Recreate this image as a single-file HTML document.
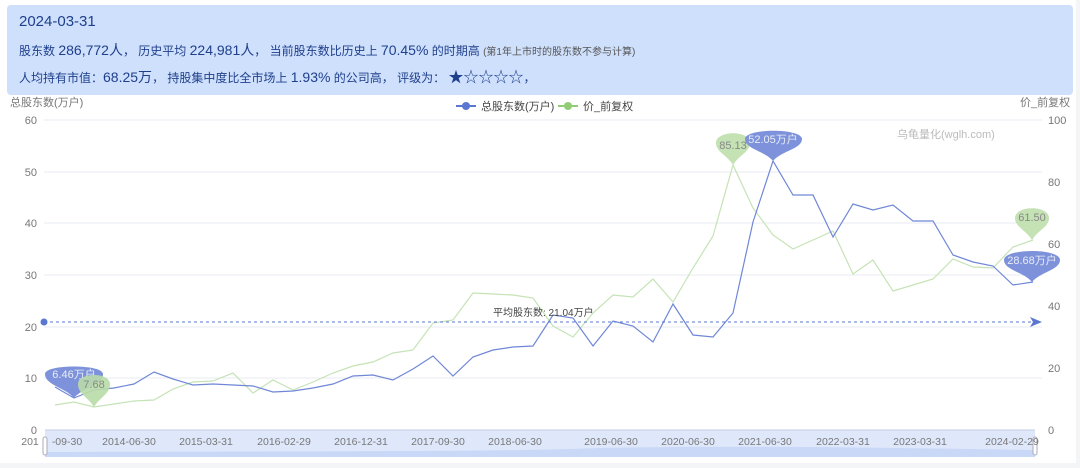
<!DOCTYPE html>
<html><head><meta charset="utf-8"><style>
body{margin:0;width:1080px;height:468px;background:#f4f5f7;font-family:"Liberation Sans","Noto Sans CJK SC",sans-serif;overflow:hidden;position:relative}
.card{position:absolute;left:0;top:0;width:1076px;height:463px;background:#fff}
.hdr{position:absolute;left:7px;top:5px;width:1066px;height:90px;background:#cfe0fc;border-radius:4px;color:#1e3f8c}
.hdr div{position:absolute;left:12px;white-space:nowrap}
</style></head><body>
<div class="card"></div>
<div class="hdr">
<div style="top:8px;font-size:15px">2024-03-31</div>
<div style="top:35px;font-size:12px">股东数 <span style="font-size:14px">286,772人</span>， 历史平均 <span style="font-size:14px">224,981人</span>， 当前股东数比历史上 <span style="font-size:14px">70.45%</span> 的时期高 <span style="font-size:10px;color:#555">(第1年上市时的股东数不参与计算)</span></div>
<div style="top:61px;font-size:12px">人均持有市值：<span style="font-size:14px">68.25万</span>， 持股集中度比全市场上 <span style="font-size:14px">1.93%</span> 的公司高， 评级为： <span style="font-size:15px">★☆☆☆☆</span>，</div>
</div>
<svg width="1080" height="468" style="position:absolute;left:0;top:0" font-family="Liberation Sans, Noto Sans CJK SC, sans-serif">
<g stroke="#e8ebf3" stroke-width="1">
<line x1="44" y1="120" x2="1042" y2="120"/><line x1="44" y1="172" x2="1042" y2="172"/><line x1="44" y1="223" x2="1042" y2="223"/><line x1="44" y1="275" x2="1042" y2="275"/><line x1="44" y1="327" x2="1042" y2="327"/><line x1="44" y1="378" x2="1042" y2="378"/>
</g>
<g font-size="11" fill="#777" text-anchor="end">
<text x="37" y="124">60</text><text x="37" y="176">50</text><text x="37" y="227">40</text><text x="37" y="279">30</text><text x="37" y="331">20</text><text x="37" y="382">10</text><text x="37" y="434">0</text>
</g>
<g font-size="11" fill="#777">
<text x="1048" y="124">100</text><text x="1048" y="186">80</text><text x="1048" y="248">60</text><text x="1048" y="310">40</text><text x="1048" y="372">20</text><text x="1048" y="434">0</text>
<text x="10" y="106">总股东数(万户)</text><text x="1020" y="106">价_前复权</text>
<text x="897" y="138" fill="#bbb">乌龟量化(wglh.com)</text>
</g>
<g font-size="11" fill="#444">
<line x1="456" y1="106" x2="476" y2="106" stroke="#5b77d1" stroke-width="2"/><circle cx="466" cy="106" r="4" fill="#5b77d1"/><text x="481" y="110">总股东数(万户)</text>
<line x1="558" y1="106" x2="578" y2="106" stroke="#91cc75" stroke-width="2"/><circle cx="568" cy="106" r="4" fill="#91cc75"/><text x="583" y="110">价_前复权</text>
</g>
<polyline fill="none" stroke="#c5e3b6" stroke-width="1.2" points="55,405 74,402 94,407 114,404 134,401 154,400 173,389 193,382 213,381 233,373 253,393 273,380 293,390 313,382 333,373 353,366 373,362 393,353 413,350 433,323 453,320 473,293 493,294 513,295 533,298 553,326 573,337 593,313 613,295 633,297 653,279 673,302 693,268 713,236 733,165 753,208 773,235 793,249 813,240 833,231 853,274 873,260 893,291 913,285 933,279 953,259 973,267 993,268 1013,247 1033,240"/>
<polyline fill="none" stroke="#6f87d6" stroke-width="1.2" points="55,387 74,398 94,390 114,388 134,384 154,372 173,379 193,385 213,384 233,385 253,386 273,392 293,391 313,388 333,384 353,376 373,375 393,380 413,369 433,356 453,376 473,357 493,350 513,347 533,346 553,315 573,318 593,346 613,321 633,326 653,342 673,304 693,335 713,337 733,313 753,222 773,161 793,195 813,195 833,237 853,204 873,210 893,205 913,221 933,221 953,255 973,262 993,266 1013,285 1033,282"/>
<line x1="44" y1="322" x2="1034" y2="322" stroke="#5b77d1" stroke-dasharray="3,3"/>
<circle cx="44" cy="322" r="3.5" fill="#5b77d1"/><path d="M1030,317 L1042,322 L1030,327 L1033,322Z" fill="#5b77d1"/>
<text x="493" y="316" font-size="10" fill="#444">平均股东数: 21.04万户</text>
<g font-size="11">
<path d="M74,398 C66,388 45,385 45,374 C45,364 103,364 103,374 C103,385 82,388 74,398Z" fill="#7d92da"/><text x="74" y="378" text-anchor="middle" fill="#e8ecf8">6.46万户</text>
<path d="M94,407 C88,397 78,394 78,384 C78,372 110,372 110,384 C110,394 100,397 94,407Z" fill="#b9dca8" opacity=".9"/><text x="94" y="388" text-anchor="middle" fill="#888">7.68</text>
<path d="M733,165 C727,155 716,152 716,143 C716,130 750,130 750,143 C750,152 739,155 733,165Z" fill="#c4e2b4"/><text x="733" y="149" text-anchor="middle" fill="#888">85.13</text>
<path d="M773,161 C765,151 745,149 745,139 C745,128 802,128 802,139 C802,149 781,151 773,161Z" fill="#7d92da"/><text x="773" y="143" text-anchor="middle" fill="#e8ecf8">52.05万户</text>
<path d="M1032,240 C1026,230 1015,227 1015,218 C1015,205 1049,205 1049,218 C1049,227 1038,230 1032,240Z" fill="#c4e2b4"/><text x="1032" y="221" text-anchor="middle" fill="#888">61.50</text>
<path d="M1032,282 C1024,272 1004,270 1004,260 C1004,248 1060,248 1060,260 C1060,270 1040,272 1032,282Z" fill="#7d92da"/><text x="1032" y="264" text-anchor="middle" fill="#e8ecf8">28.68万户</text>
</g>
<rect x="45" y="430" width="990" height="27" fill="#dfe8fb"/>
<path d="M45,457 L45,452 C300,451 500,452 600,448 C750,445 900,448 1035,450 L1035,457Z" fill="#c9d8f7"/>
<line x1="45" y1="430" x2="1035" y2="430" stroke="#c4cce0"/>
<rect x="43" y="437" width="4" height="18" rx="2" fill="#fff" stroke="#aab"/>
<rect x="1033" y="437" width="4" height="18" rx="2" fill="#fff" stroke="#aab"/>
<g font-size="10.5" fill="#777" text-anchor="middle">
<text x="30" y="445">201</text><text x="67" y="445">-09-30</text><text x="129" y="445">2014-06-30</text><text x="206" y="445">2015-03-31</text><text x="284" y="445">2016-02-29</text><text x="361" y="445">2016-12-31</text><text x="438" y="445">2017-09-30</text><text x="515" y="445">2018-06-30</text><text x="611" y="445">2019-06-30</text><text x="688" y="445">2020-06-30</text><text x="765" y="445">2021-06-30</text><text x="843" y="445">2022-03-31</text><text x="920" y="445">2023-03-31</text><text x="1012" y="445">2024-02-29</text>
</g>
</svg>
</body></html>
